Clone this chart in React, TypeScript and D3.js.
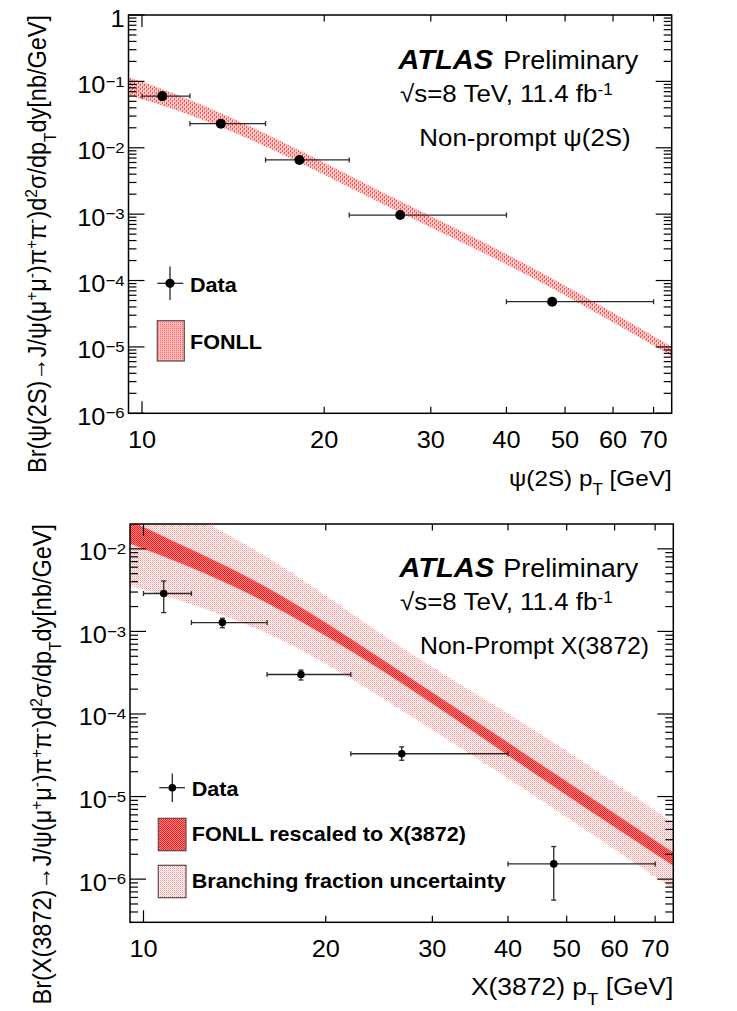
import React from 'react';
import * as d3 from 'd3';

const W = 737;
const H = 1011;
const FONT = '"Liberation Sans", Arial, Helvetica, sans-serif';
const SX = 1.08;

// ---------------- data ----------------
const X_DOMAIN = [9.5, 75];
const xTickValues = [10, 20, 30, 40, 50, 60, 70];
const xTickLabels = ['10', '20', '30', '40', '50', '60', '70'];

// psi(2S) panel
const psiPt = [10.8, 13.5, 18.2, 26.7, 47.6];
const psiBinLo = [10, 12, 16, 22, 40];
const psiBinHi = [12, 16, 22, 40, 70];
const psiVal = [0.06, 0.0231, 0.00655, 9.7e-4, 4.8e-5];

const fonllPt = [9.5, 12, 16.9, 26.7, 43.8, 75];
const fonllLo = [0.062, 0.0312, 0.0083, 1.06e-3, 1.14e-4, 7.3e-6];
const fonllHi = [0.115, 0.0525, 0.0128, 1.58e-3, 1.62e-4, 1.01e-5];

// X(3872) panel
const xPt = [10.8, 13.5, 18.2, 26.7, 47.6];
const xBinLo = [10, 12, 16, 22, 40];
const xBinHi = [12, 16, 22, 40, 70];
const xVal = [2.88e-3, 1.28e-3, 3.01e-4, 3.3e-5, 1.53e-6];
const xErrUp = [4.08e-3, 1.445e-3, 3.4e-4, 4.0e-5, 2.48e-6];
const xErrDn = [1.69e-3, 1.11e-3, 2.58e-4, 2.75e-5, 5.57e-7];

const innerPt = [9.5, 12, 16.9, 26.7, 43.8, 75];
const innerLo = [0.0115, 5.9e-3, 1.78e-3, 2.35e-4, 2.0e-5, 1.45e-6];
const innerHi = [0.022, 9.8e-3, 2.7e-3, 3.2e-4, 2.9e-5, 2.1e-6];

const outerPt = [9.5, 16, 26.5, 44, 75];
const outerLo = [3.6e-3, 9.5e-4, 1.15e-4, 1.05e-5, 7.6e-7];
const outerHi = [0.06, 7.9e-3, 6.6e-4, 6.5e-5, 4.8e-6];

type Kind = 'n' | 'sup' | 'sub';
type Seg = [string, Kind];

const psiYTitle: Seg[] = [
  ['Br(ψ(2S)→J/ψ(μ', 'n'], ['+', 'sup'], ['μ', 'n'], ['-', 'sup'], [')π', 'n'], ['+', 'sup'],
  ['π', 'n'], ['-', 'sup'], [')d', 'n'], ['2', 'sup'], ['σ/dp', 'n'], ['T', 'sub'], ['dy[nb/GeV]', 'n'],
];
const xYTitle: Seg[] = [
  ['Br(X(3872)→J/ψ(μ', 'n'], ['+', 'sup'], ['μ', 'n'], ['-', 'sup'], [')π', 'n'], ['+', 'sup'],
  ['π', 'n'], ['-', 'sup'], [')d', 'n'], ['2', 'sup'], ['σ/dp', 'n'], ['T', 'sub'], ['dy[nb/GeV]', 'n'],
];
const psiXTitle: Seg[] = [['ψ(2S) p', 'n'], ['T', 'sub'], [' [GeV]', 'n']];
const xXTitle: Seg[] = [['X(3872) p', 'n'], ['T', 'sub'], [' [GeV]', 'n']];
const energySegs: Seg[] = [['√s=8 TeV, 11.4 fb', 'n'], ['-1', 'sup']];

// ---------------- helpers ----------------
function Rich(props: {
  x: number; y: number; segs: Seg[]; size: number; anchor?: string; weight?: string;
  italic?: boolean; rotate?: boolean; supShift?: number; subShift?: number; scriptScale?: number;
}) {
  const { x, y, segs, size, anchor = 'start', weight = 'normal', italic = false, rotate = false,
    supShift = 0.38, subShift = 0.42, scriptScale = 0.66 } = props;
  let cur = 0;
  const spans = segs.map(([t, k], i) => {
    const target = k === 'sup' ? -supShift * size : k === 'sub' ? subShift * size : 0;
    const dy = target - cur;
    cur = target;
    return (
      <tspan key={i} dy={dy} fontSize={k === 'n' ? size : size * scriptScale}>{t}</tspan>
    );
  });
  return (
    <text
      transform={`translate(${x},${y}) scale(${SX},1)${rotate ? ' rotate(-90)' : ''}`}
      textAnchor={anchor}
      fontFamily={FONT}
      fontSize={size}
      fontWeight={weight}
      fontStyle={italic ? 'italic' : 'normal'}
      fill="#000"
      style={{ whiteSpace: 'pre' }}
    >
      {spans}
    </text>
  );
}

type Band = { pts: number[]; lo: number[]; hi: number[]; fill: string };
type Pts = { pt: number[]; lo: number[]; hi: number[]; val: number[]; up?: number[]; dn?: number[]; r: number };
type LegendItem =
  | { kind: 'data'; cx: number; cy: number; vlen: number; hx0: number; hx1: number; r: number; tx: number; ty: number; label: string }
  | { kind: 'box'; x: number; y: number; w: number; h: number; fill: string; tx: number; ty: number; label: string };

type PanelCfg = {
  id: string; left: number; top: number; width: number; height: number; yDomain: [number, number];
  bands: Band[]; points: Pts;
  yTitle: Seg[]; yTitleX: number; xTitle: Seg[]; xTitleY: number; xTitleSize: number; xTickLabelY: number;
  atlas: [number, number]; prelim: [number, number]; energy: [number, number];
  process: { x: number; y: number; text: string; size: number };
  legend: LegendItem[];
};

function Panel({ cfg }: { cfg: PanelCfg }) {
  const { left, top, width, height } = cfg;
  const right = left + width;
  const bottom = top + height;
  const x = d3.scaleLog().domain(X_DOMAIN).range([left, right]);
  const y = d3.scaleLog().domain(cfg.yDomain).range([bottom, top]);

  const eMin = Math.ceil(Math.log10(cfg.yDomain[0]) - 1e-9);
  const eMax = Math.floor(Math.log10(cfg.yDomain[1]) + 1e-9);
  const majors: number[] = [];
  for (let e = eMin; e <= eMax; e++) majors.push(e);
  const minors: number[] = [];
  for (let e = eMin - 1; e <= eMax; e++) {
    for (let m = 2; m <= 9; m++) {
      const v = m * Math.pow(10, e);
      if (v > cfg.yDomain[0] * 1.0001 && v < cfg.yDomain[1] * 0.9999) minors.push(v);
    }
  }

  const clipId = `clip-${cfg.id}`;
  const area = (b: Band) =>
    d3.area<number>()
      .x((_, i) => x(b.pts[i]))
      .y0((_, i) => y(b.lo[i]))
      .y1((_, i) => y(b.hi[i]))
      .curve(d3.curveNatural)(b.pts) || '';

  const P = cfg.points;
  const ebColor = '#2a2a2a';

  return (
    <g>
      <clipPath id={clipId}>
        <rect x={left} y={top} width={width} height={height} />
      </clipPath>
      <g clipPath={`url(#${clipId})`}>
        {cfg.bands.map((b, i) => (
          <path key={i} d={area(b)} fill={b.fill} stroke="none" />
        ))}
      </g>
      {/* data */}
      <g stroke={ebColor} strokeWidth={1.3}>
        {P.pt.map((p, i) => {
          const cx = x(p);
          const cy = y(P.val[i]);
          const x0 = x(P.lo[i]);
          const x1 = x(P.hi[i]);
          return (
            <g key={i}>
              <line x1={x0} x2={x1} y1={cy} y2={cy} />
              <line x1={x0} x2={x0} y1={cy - 2.5} y2={cy + 2.5} />
              <line x1={x1} x2={x1} y1={cy - 2.5} y2={cy + 2.5} />
              {P.up && P.dn && (
                <g>
                  <line x1={cx} x2={cx} y1={y(P.up[i])} y2={y(P.dn[i])} />
                  <line x1={cx - 2.5} x2={cx + 2.5} y1={y(P.up[i])} y2={y(P.up[i])} />
                  <line x1={cx - 2.5} x2={cx + 2.5} y1={y(P.dn[i])} y2={y(P.dn[i])} />
                </g>
              )}
              <circle cx={cx} cy={cy} r={P.r} fill="#000" stroke="none" />
            </g>
          );
        })}
      </g>
      {/* frame */}
      <rect x={left} y={top} width={width} height={height} fill="none" stroke="#000" strokeWidth={1.5} />
      {/* ticks */}
      <g stroke="#000" strokeWidth={1.2}>
        {majors.map((e) => {
          const yy = y(Math.pow(10, e));
          return (
            <g key={`M${e}`}>
              <line x1={left} x2={left + 16} y1={yy} y2={yy} />
              <line x1={right} x2={right - 16} y1={yy} y2={yy} />
            </g>
          );
        })}
        {minors.map((v, i) => {
          const yy = y(v);
          return (
            <g key={`m${i}`}>
              <line x1={left} x2={left + 8} y1={yy} y2={yy} />
              <line x1={right} x2={right - 8} y1={yy} y2={yy} />
            </g>
          );
        })}
        {xTickValues.map((v) => {
          const xx = x(v);
          const len = v === 10 ? 12 : 6.5;
          return (
            <g key={`x${v}`}>
              <line x1={xx} x2={xx} y1={bottom} y2={bottom - len} />
              <line x1={xx} x2={xx} y1={top} y2={top + len} />
            </g>
          );
        })}
      </g>
      {/* y tick labels */}
      {majors.map((e) => {
        const segs: Seg[] = e === 0 ? [['1', 'n']] : [['10', 'n'], [`−${-e}`, 'sup']];
        return (
          <Rich key={`yl${e}`} x={left - 4} y={y(Math.pow(10, e)) + 11.5} segs={segs} size={23.5}
            anchor="end" supShift={0.27} scriptScale={0.66} />
        );
      })}
      {/* x tick labels */}
      {xTickValues.map((v, i) => (
        <Rich key={`xl${v}`} x={x(v)} y={cfg.xTickLabelY} segs={[[xTickLabels[i], 'n']]} size={23.5} anchor="middle" />
      ))}
      {/* axis titles */}
      <Rich x={right} y={cfg.xTitleY} segs={cfg.xTitle} size={cfg.xTitleSize} anchor="end" subShift={0.42} scriptScale={0.7} />
      <Rich x={cfg.yTitleX} y={top} segs={cfg.yTitle} size={23.5} anchor="end" rotate
        supShift={0.36} subShift={0.38} scriptScale={0.66} />
      {/* header */}
      <Rich x={cfg.atlas[0]} y={cfg.atlas[1]} segs={[['ATLAS', 'n']]} size={27} weight="bold" italic />
      <Rich x={cfg.prelim[0]} y={cfg.prelim[1]} segs={[['Preliminary', 'n']]} size={25} />
      <Rich x={cfg.energy[0]} y={cfg.energy[1]} segs={energySegs} size={24} supShift={0.3} scriptScale={0.66} />
      <Rich x={cfg.process.x} y={cfg.process.y} segs={[[cfg.process.text, 'n']]} size={cfg.process.size} />
      {/* legend */}
      {cfg.legend.map((it, i) =>
        it.kind === 'data' ? (
          <g key={i}>
            <g stroke={ebColor} strokeWidth={1.3}>
              <line x1={it.cx} x2={it.cx} y1={it.cy - it.vlen} y2={it.cy + it.vlen} />
              <line x1={it.hx0} x2={it.hx1} y1={it.cy} y2={it.cy} />
            </g>
            <circle cx={it.cx} cy={it.cy} r={it.r} fill="#000" />
            <Rich x={it.tx} y={it.ty} segs={[[it.label, 'n']]} size={20} weight="bold" />
          </g>
        ) : (
          <g key={i}>
            <rect x={it.x} y={it.y} width={it.w} height={it.h} fill={it.fill} stroke="#5a4a4a" strokeWidth={1.2} />
            <Rich x={it.tx} y={it.ty} segs={[[it.label, 'n']]} size={20} weight="bold" />
          </g>
        )
      )}
    </g>
  );
}

const topCfg: PanelCfg = {
  id: 'psi', left: 128.5, top: 15, width: 543.2, height: 398.3, yDomain: [1e-6, 1],
  bands: [{ pts: fonllPt, lo: fonllLo, hi: fonllHi, fill: 'url(#psiPat)' }],
  points: { pt: psiPt, lo: psiBinLo, hi: psiBinHi, val: psiVal, r: 5 },
  yTitle: psiYTitle, yTitleX: 46, xTitle: psiXTitle, xTitleY: 486, xTitleSize: 22.5, xTickLabelY: 448.3,
  atlas: [398.3, 69], prelim: [503.3, 69], energy: [400, 101.7],
  process: { x: 419.3, y: 145.7, text: 'Non-prompt ψ(2S)', size: 24 },
  legend: [
    { kind: 'data', cx: 170, cy: 283.3, vlen: 16.7, hx0: 157.3, hx1: 183.3, r: 4.6, tx: 190, ty: 292.3, label: 'Data' },
    { kind: 'box', x: 157.3, y: 320.7, w: 27, h: 40.3, fill: 'url(#psiLegPat)', tx: 190, ty: 349.3, label: 'FONLL' },
  ],
};

const botCfg: PanelCfg = {
  id: 'x3872', left: 130, top: 524, width: 543.3, height: 398.3, yDomain: [3e-7, 2e-2],
  bands: [
    { pts: outerPt, lo: outerLo, hi: outerHi, fill: 'url(#outerPat)' },
    { pts: innerPt, lo: innerLo, hi: innerHi, fill: 'url(#innerPat)' },
  ],
  points: { pt: xPt, lo: xBinLo, hi: xBinHi, val: xVal, up: xErrUp, dn: xErrDn, r: 3.8 },
  yTitle: xYTitle, yTitleX: 51, xTitle: xXTitle, xTitleY: 995, xTitleSize: 24.5, xTickLabelY: 956.7,
  atlas: [399.3, 577.3], prelim: [503.3, 577.3], energy: [400, 610],
  process: { x: 420, y: 654, text: 'Non-Prompt X(3872)', size: 23 },
  legend: [
    { kind: 'data', cx: 172.3, cy: 787.7, vlen: 14.2, hx0: 159.3, hx1: 185, r: 3.8, tx: 191.7, ty: 795.7, label: 'Data' },
    { kind: 'box', x: 158.3, y: 818.3, w: 27.7, h: 32.4, fill: 'url(#innerPat)', tx: 191.7, ty: 840.7, label: 'FONLL rescaled to X(3872)' },
    { kind: 'box', x: 158.3, y: 865.3, w: 27.7, h: 32.4, fill: 'url(#outerPat)', tx: 191.7, ty: 887.7, label: 'Branching fraction uncertainty' },
  ],
};

export default function App() {
  return (
    <svg width={W} height={H} style={{ position: 'absolute', left: 0, top: 0, background: '#fff', display: 'block' }}>
      <defs>
        <pattern id="psiPat" width={4} height={4} patternUnits="userSpaceOnUse">
          <rect width={4} height={4} fill="#ffb8b8" />
          <rect x={0} y={0} width={1} height={2} fill="#ff5050" />
          <rect x={2} y={2} width={1} height={2} fill="#ff5050" />
          <rect x={1} y={1} width={1} height={2} fill="#ffeaea" />
          <rect x={3} y={3} width={1} height={2} fill="#ffeaea" />
        </pattern>
        <pattern id="psiLegPat" width={2} height={2} patternUnits="userSpaceOnUse">
          <rect width={2} height={2} fill="#ffb8b8" />
          <rect x={0} y={0} width={1} height={1} fill="#ff6a6a" />
        </pattern>
        <pattern id="innerPat" width={2} height={2} patternUnits="userSpaceOnUse">
          <rect width={2} height={2} fill="#ff8080" />
          <rect x={0} y={0} width={1} height={1} fill="#ec2424" />
          <rect x={1} y={1} width={1} height={1} fill="#ec2424" />
        </pattern>
        <pattern id="outerPat" width={2} height={2} patternUnits="userSpaceOnUse">
          <rect width={2} height={2} fill="#ffffff" />
          <rect x={0} y={0} width={1} height={1} fill="#ff9494" />
          <rect x={1} y={1} width={1} height={1} fill="#ffc4c4" />
        </pattern>
      </defs>
      <Panel cfg={topCfg} />
      <Panel cfg={botCfg} />
    </svg>
  );
}
